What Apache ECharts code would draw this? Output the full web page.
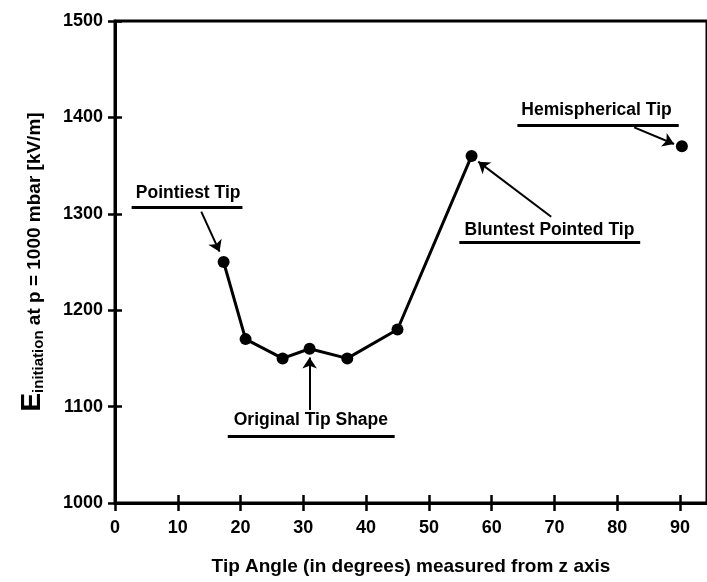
<!DOCTYPE html>
<html>
<head>
<meta charset="utf-8">
<script src="https://cdn.jsdelivr.net/npm/echarts@6/dist/echarts.min.js"></script>
<style>
html,body{margin:0;padding:0;background:#fff;}
#chart{width:707px;height:582px;}
</style>
</head>
<body>
<div id="chart"></div>
<script>
// ---- data ----
var tipAngles = [17.3, 20.8, 26.7, 31.0, 37.0, 45.0, 56.8];
var fieldValues = [1250, 1170, 1150, 1160, 1150, 1180, 1360];
var hemiAngle = [90.3];
var hemiValue = [1370];
var xTicks = [0, 10, 20, 30, 40, 50, 60, 70, 80, 90];
var yTicks = [1000, 1100, 1200, 1300, 1400, 1500];
var labelNames = ['Pointiest Tip', 'Original Tip Shape', 'Bluntest Pointed Tip', 'Hemispherical Tip'];

// annotation anchors in data coordinates
var labelAnchors = [[11.65, 1321.6], [31.2, 1086.1], [69.2, 1283.2], [76.7, 1407.7]];
var underlines = [[[2.65, 1306.3], [20.3, 1306.3]], [[17.96, 1069.5], [44.55, 1069.5]], [[54.85, 1270], [83.66, 1270]], [[64.1, 1392.1], [89.8, 1392.1]]];
var arrows = [[[13.74, 1302.2], [16.65, 1260.7]], [[31.0, 1096.5], [31.0, 1151]], [[69.48, 1297], [57.86, 1354.1]], [[82.7, 1389.7], [89.05, 1372.4]]];

var FONT = '"Liberation Sans", Arial, Helvetica, sans-serif';
var mainData = tipAngles.map(function (x, i) { return [x, fieldValues[i]]; });
var hemiData = hemiAngle.map(function (x, i) { return [x, hemiValue[i]]; });
var annoData = labelNames.map(function (n, i) { return { name: n, value: labelAnchors[i] }; });

var markLines = [];
underlines.forEach(function (u) {
  markLines.push([{ coord: u[0], symbol: 'none', lineStyle: { width: 3 } }, { coord: u[1], symbol: 'none' }]);
});
arrows.forEach(function (a) {
  markLines.push([{ coord: a[0], symbol: 'none', lineStyle: { width: 2 } }, { coord: a[1], symbol: 'arrow', symbolSize: 11 }]);
});

var xMin = xTicks[0], yMin = yTicks[0], yMax = yTicks[yTicks.length - 1];
var xStep = xTicks[1] - xTicks[0], yStep = yTicks[1] - yTicks[0];
var xMax = 94.3;

function xAx(inside, showLbl) {
  return {
    type: 'value', min: xMin, max: xMax, interval: xStep, position: 'bottom',
    axisLine: { show: showLbl, lineStyle: { color: '#000', width: 3 } },
    axisTick: { show: true, inside: inside, length: 8, lineStyle: { color: '#000', width: 2.5 } },
    axisLabel: { show: showLbl, showMaxLabel: false, color: '#000', fontFamily: FONT, fontWeight: 'bold', fontSize: 18, margin: 16,
      formatter: function (v) { return String(v); } },
    splitLine: { show: false },
    name: showLbl ? 'Tip Angle (in degrees) measured from z axis' : '',
    nameLocation: 'middle', nameGap: 54,
    nameTextStyle: { color: '#000', fontFamily: FONT, fontWeight: 'bold', fontSize: 19 }
  };
}
function yAx(inside, showLbl) {
  return {
    type: 'value', min: yMin, max: yMax, interval: yStep, position: 'left',
    axisLine: { show: showLbl, lineStyle: { color: '#000', width: 3 } },
    axisTick: { show: true, inside: inside, length: 7, lineStyle: { color: '#000', width: 2.5 } },
    axisLabel: { show: showLbl, color: '#000', fontFamily: FONT, fontWeight: 'bold', fontSize: 18, margin: 12,
      formatter: function (v) { return String(v); } },
    splitLine: { show: false },
    name: showLbl ? '{E|E}{s|initiation}{n| at p = 1000 mbar [kV/m]}' : '',
    nameLocation: 'middle', nameGap: 69, nameRotate: 90,
    nameTextStyle: {
      color: '#000', fontFamily: FONT, fontWeight: 'bold',
      rich: {
        E: { fontSize: 28, fontFamily: FONT, fontWeight: 'bold', color: '#000', verticalAlign: 'bottom' },
        s: { fontSize: 15, fontFamily: FONT, fontWeight: 'bold', color: '#000', verticalAlign: 'bottom' },
        n: { fontSize: 19, fontFamily: FONT, fontWeight: 'bold', color: '#000', verticalAlign: 'bottom', padding: [0, 0, 2, 0] }
      }
    }
  };
}

var chart = echarts.init(document.getElementById('chart'), null, { renderer: 'canvas' });
chart.setOption({
  animation: false,
  backgroundColor: '#fff',
  grid: { left: 115, right: -3, top: 21, bottom: 79, show: true, borderColor: '#000', borderWidth: 3, backgroundColor: 'transparent' },
  xAxis: [xAx(false, true), xAx(true, false)],
  yAxis: [yAx(false, true), yAx(true, false)],
  series: [
    {
      type: 'line', data: mainData, xAxisIndex: 0, yAxisIndex: 0,
      symbol: 'circle', symbolSize: 12,
      lineStyle: { color: '#000', width: 3 }, itemStyle: { color: '#000', opacity: 1 }
    },
    {
      type: 'scatter', data: hemiData, xAxisIndex: 0, yAxisIndex: 0,
      symbol: 'circle', symbolSize: 12, itemStyle: { color: '#000', opacity: 1 }
    },
    {
      type: 'scatter', data: annoData, xAxisIndex: 0, yAxisIndex: 0, symbolSize: 0, silent: true,
      itemStyle: { color: '#000', opacity: 1 },
      label: { show: true, position: 'inside', formatter: '{b}', color: '#000', opacity: 1, fontFamily: FONT, fontWeight: 'bold', fontSize: 17.5 },
      markLine: {
        silent: true, symbol: ['none', 'arrow'],
        label: { show: false },
        lineStyle: { color: '#000', type: 'solid', opacity: 1 },
        data: markLines
      }
    }
  ]
});
</script>
</body>
</html>
